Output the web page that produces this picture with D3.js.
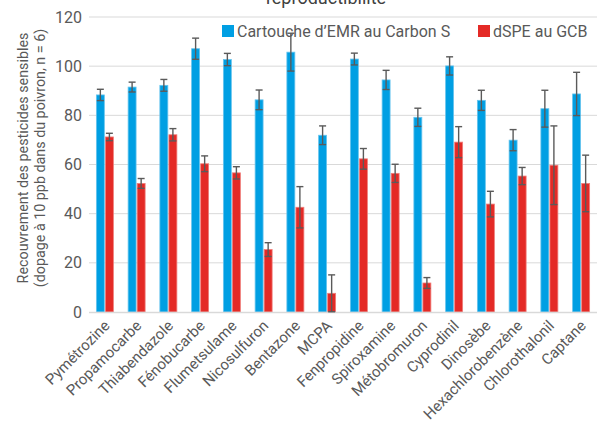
<!DOCTYPE html>
<html><head><meta charset="utf-8">
<script src="https://cdn.jsdelivr.net/npm/d3@7"></script>
<style>body{margin:0;background:#fff;} svg{display:block;font-family:Roboto,"Noto Sans",sans-serif;}</style>
</head><body>
<svg id="c" width="597" height="426"></svg>
<script>
const categories = ["Pymétrozine","Propamocarbe","Thiabendazole","Fénobucarbe","Flumetsulame","Nicosulfuron","Bentazone","MCPA","Fenpropidine","Spiroxamine","Métobromuron","Cyprodinil","Dinosèbe","Hexachlorobenzène","Chlorothalonil","Captane"];
const seriesNames = ["Cartouche d’EMR au Carbon S","dSPE au GCB"];
const emrValues = [88.3, 91.5, 92.2, 107.1, 102.7, 86.3, 105.7, 71.9, 102.9, 94.4, 79.2, 100.1, 86.1, 69.9, 82.7, 88.7];
const emrErrors = [2.3, 2.0, 2.4, 4.3, 2.5, 4.0, 7.7, 3.8, 2.4, 3.9, 3.7, 3.7, 4.1, 4.3, 7.5, 8.8];
const gcbValues = [71.2, 52.3, 72.1, 60.3, 56.6, 25.4, 42.6, 7.6, 62.3, 56.4, 11.8, 69.1, 43.9, 55.3, 59.7, 52.3];
const gcbErrors = [1.5, 2.0, 2.5, 3.2, 2.5, 2.8, 8.4, 7.5, 4.2, 3.7, 2.2, 6.3, 5.2, 3.5, 16.0, 11.5];
const yTicks = [0, 20, 40, 60, 80, 100, 120];
const title = "reproductibilité";
const yLabelLines = ["Recouvrement des pesticides sensibles", "(dopage à 10 ppb dans du poivron, n = 6)"];
const colors = ["#009fe3", "#e42a26"];
const strokes = ["#66c4ee", "#ef7e7a"];

const svg = d3.select("#c");
const L = 89, R = 597, T = 17, B = 312;
const x = d3.scaleBand().domain(categories).range([L, R]);
const xs = d3.scaleBand().domain([0,1]).range([-8.5, 8.5]).paddingInner(0.12);
const y = d3.scaleLinear().domain([0, 120]).range([B, T]);

// gridlines
svg.append("g").selectAll("line").data(yTicks.filter(d => d > 0)).join("line")
  .attr("x1", L).attr("x2", R).attr("y1", d => y(d)).attr("y2", d => y(d))
  .attr("stroke", "#d9d9d9").attr("stroke-width", 1);

// y axis tick labels
const ya = svg.append("g").attr("transform", `translate(${L},0)`)
  .call(d3.axisLeft(y).tickValues(yTicks).tickSize(0).tickPadding(7));
ya.select(".domain").remove();
ya.selectAll("text").attr("font-size", 16).attr("fill", "#595959").attr("font-family", "Roboto");

const data = [];
categories.forEach((c, i) => {
  data.push({c, s: 0, v: emrValues[i], e: emrErrors[i]});
  data.push({c, s: 1, v: gcbValues[i], e: gcbErrors[i]});
});

svg.append("g").selectAll("rect").data(data).join("rect")
  .attr("x", d => x(d.c) + x.bandwidth()/2 + xs(d.s))
  .attr("width", xs.bandwidth())
  .attr("y", d => y(d.v))
  .attr("height", d => y(0) - y(d.v))
  .attr("fill", d => colors[d.s])
  .attr("stroke", d => strokes[d.s]).attr("stroke-width", 0.8);

// x axis baseline
svg.append("line").attr("x1", L).attr("x2", R).attr("y1", B + 0.5).attr("y2", B + 0.5)
  .attr("stroke", "#d9d9d9").attr("stroke-width", 1.5);

// error bars
const eg = svg.append("g").attr("stroke", "#5a5a5a").attr("stroke-width", 1.4);
data.forEach(d => {
  const cx = x(d.c) + x.bandwidth()/2 + xs(d.s) + xs.bandwidth()/2;
  const y1 = y(Math.min(120, d.v + d.e)), y2 = y(Math.max(0, d.v - d.e));
  eg.append("line").attr("x1", cx).attr("x2", cx).attr("y1", y1).attr("y2", y2);
  eg.append("line").attr("x1", cx - 3.5).attr("x2", cx + 3.5).attr("y1", y1).attr("y2", y1);
  if (d.v - d.e > 0) eg.append("line").attr("x1", cx - 3.5).attr("x2", cx + 3.5).attr("y1", y2).attr("y2", y2);
});

// category labels
svg.append("g").selectAll("text").data(categories).join("text")
  .attr("transform", d => `translate(${x(d) + x.bandwidth()/2 + 2},${B + 11}) rotate(-45)`)
  .attr("text-anchor", "end").attr("dy", "0.35em")
  .attr("font-size", 15).attr("fill", "#595959")
  .text(d => d);

// y label
const yl = svg.append("text").attr("transform", `translate(0,158) rotate(-90)`)
  .attr("text-anchor", "middle").attr("font-size", 14.3).attr("fill", "#595959");
yl.selectAll("tspan").data(yLabelLines).join("tspan")
  .attr("x", 0).attr("y", (d, i) => 28 + i * 17).text(d => d);

// title
svg.append("text").attr("x", 326).attr("y", 4).attr("text-anchor", "middle")
  .attr("font-size", 18).attr("fill", "#404040").text(title);

// legend
const legX = [222, 478];
seriesNames.forEach((n, i) => {
  svg.append("rect").attr("x", legX[i]).attr("y", 25).attr("width", 12).attr("height", 12).attr("fill", colors[i]);
  svg.append("text").attr("x", legX[i] + 15).attr("y", 36.5).attr("font-size", 16).attr("fill", "#595959").text(n);
});
</script>
</body></html>
